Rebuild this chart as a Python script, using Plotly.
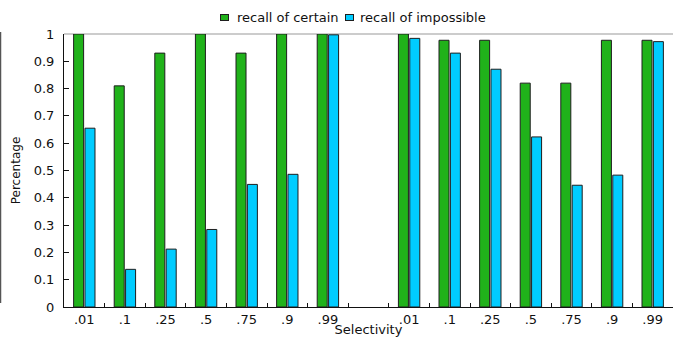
import plotly.graph_objects as go

# Selectivity levels, two experiment groups separated by an empty slot
selectivity = [".01", ".1", ".25", ".5", ".75", ".9", ".99"]
tick_labels = selectivity + [""] + selectivity

certain_left = [1.0, 0.81, 0.93, 1.0, 0.93, 1.0, 1.0]
certain_right = [1.0, 0.977, 0.977, 0.82, 0.82, 0.977, 0.977]
impossible_left = [0.655, 0.138, 0.212, 0.284, 0.449, 0.486, 0.997]
impossible_right = [0.984, 0.93, 0.871, 0.623, 0.446, 0.483, 0.972]

y_ticks = [0, 0.1, 0.2, 0.3, 0.4, 0.5, 0.6, 0.7, 0.8, 0.9, 1]
y_tick_text = ["0", "0.1", "0.2", "0.3", "0.4", "0.5", "0.6", "0.7", "0.8", "0.9", "1"]

series_names = ["recall of certain", "recall of impossible"]

certain = certain_left + [None] + certain_right
impossible = impossible_left + [None] + impossible_right
slots = list(range(len(tick_labels)))
boundaries = [s + 0.5 for s in slots[:-1]]

GREEN = "#20b21a"
BLUE = "#00ccff"
EDGE = "#1e1e1e"
FONT = "DejaVu Sans"
FS = 13

# plot area geometry in pixels (for placing the legend boxes)
W, H = 673, 337
ML, MR, MT, MB = 64, 0, 34, 30
PW, PH = W - ML - MR, H - MT - MB


def px_x(px):
    return (px - ML) / PW


def px_y(py):
    return (H - MB - py) / PH


fig = go.Figure()
for vals, col, name in [(certain, GREEN, series_names[0]), (impossible, BLUE, series_names[1])]:
    fig.add_trace(go.Bar(x=slots, y=vals, name=name,
                         marker=dict(color=col, line=dict(color=EDGE, width=1)),
                         showlegend=False))

# compact legend: framed swatch + label, centred above the plot
annotations = []
legend_items = [(series_names[0], GREEN, 224.5, 235), (series_names[1], BLUE, 349.5, 358)]
for name, col, sx, tx in legend_items:
    annotations.append(dict(xref="paper", yref="paper", x=px_x(sx), y=px_y(17),
                            xanchor="center", yanchor="middle", text=" ",
                            width=7, height=5, showarrow=False, bgcolor=col,
                            bordercolor=EDGE, borderwidth=1, borderpad=0,
                            font=dict(size=2)))
    annotations.append(dict(xref="paper", yref="paper", x=px_x(tx), y=px_y(17),
                            xanchor="left", yanchor="middle", text=name,
                            showarrow=False, font=dict(family=FONT, size=FS, color="#111")))

fig.update_layout(
    width=W, height=H,
    margin=dict(l=ML, r=MR, t=MT, b=MB, autoexpand=False),
    paper_bgcolor="white", plot_bgcolor="white",
    barmode="group", bargap=0.44, bargroupgap=0.12,
    font=dict(family=FONT, size=FS, color="#111"),
    showlegend=False,
    annotations=annotations,
    xaxis=dict(range=[-0.5, len(slots) - 0.5], tickmode="array",
               tickvals=slots, ticktext=tick_labels, ticks="",
               showline=True, linecolor="#111", linewidth=1,
               showgrid=False, zeroline=False, automargin=False,
               minor=dict(tickmode="array", tickvals=boundaries, ticks="inside",
                          ticklen=4, tickcolor="#111", tickwidth=1, showgrid=False),
               title=dict(text="Selectivity", standoff=3,
                          font=dict(family=FONT, size=FS)),
               tickfont=dict(family=FONT, size=FS)),
    yaxis=dict(range=[0, 1], tickmode="array", tickvals=y_ticks, ticktext=y_tick_text,
               ticks="inside", ticklen=5, tickcolor="#111",
               showline=True, linecolor="#111", linewidth=1,
               showgrid=False, zeroline=False, ticklabelstandoff=6, automargin=False,
               title=dict(text="Percentage", standoff=10,
                          font=dict(family=FONT, size=FS - 1)),
               tickfont=dict(family=FONT, size=FS)),
    shapes=[
        # grey frame line along the top of the plot
        dict(type="line", xref="paper", yref="paper", x0=0, x1=1, y0=1, y1=1,
             line=dict(color="#999", width=1.2), layer="below"),
        # edge of the neighbouring frame at the far left
        dict(type="line", xref="paper", yref="paper", x0=px_x(0.5), x1=px_x(0.5),
             y0=px_y(32), y1=px_y(303), line=dict(color="#555", width=1.5)),
    ],
)

fig.write_html("out.html")
